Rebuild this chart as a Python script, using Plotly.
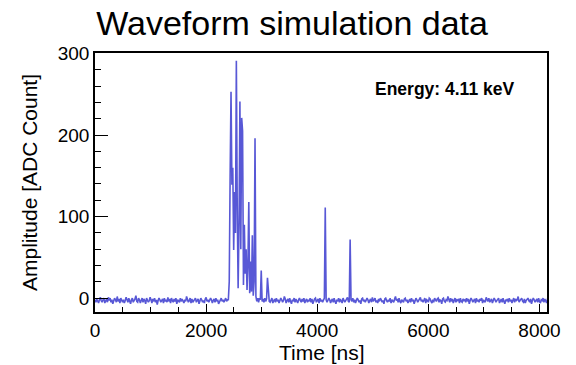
import plotly.graph_objects as go

# Sample period of the digitiser (ns)
SAMPLE_NS = 16

# Amplitude samples [ADC count], one per SAMPLE_NS
amplitude = [
    -2, -5, -1, -4, -6, -2, 1, -3, -5, -2, 0, -6, -3, -1, -5, 1,
    -3, 0, -5, -2, -7, -3, 0, -2, -5, 2, -4, -1, -6, 0, -3, -5,
    -2, -6, -3, 1, -2, -5, 0, -3, -7, -2, 0, -5, -3, -1, 3, -4,
    -5, 0, -2, -6, -3, 0, -5, -1, -3, -7, 0, -2, -5, -3, 1, -2,
    -6, -1, -4, 0, -5, -2, -8, -3, 0, -2, -5, -3, -1, -6, 0, -4,
    -2, -5, 1, -4, -1, -6, 0, -3, -5, -1, -4, 0, -7, -2, -3, -5,
    0, -4, -1, -5, -6, -2, -4, 2, -2, -5, -3, 0, -6, -1, -5, -3,
    -1, 0, -5, -3, -1, -7, -3, 0, -2, -5, -3, -6, -1, 1, -4, -2,
    -5, -3, 0, -2, -6, -3, -1, -5, 0, -4, -2, -7, -4, -1, 0, -4,
    -2, -5, -3, 0, -4, -2, -2, 20, 150, 253, 139, 160, 59, 130, 80, 291,
    110, 12, 90, 241, 60, 221, 205, 16, 90, 30, 60, 10, 40, 118, 6, 45,
    8, 77, 3, 20, 196, 2, -4, 0, -5, 0, -2, 34, -4, -1, -5, 0,
    -4, -1, 25, 0, -4, -5, -1, 0, -6, -3, -1, -5, 0, -4, -2, -6,
    -3, 0, -2, -5, -3, 2, -1, -6, -3, -1, -5, 0, -4, -7, -2, -3,
    0, -5, -1, -4, -6, -2, 0, -3, -5, -1, -4, 0, -6, -3, -1, -5,
    -2, -4, 0, -5, -1, -7, -3, -1, 0, -5, -3, -1, -6, 0, -4, -2,
    -5, -1, 0, 111, -2, -5, -3, 0, -2, -6, -3, -1, -5, 0, -4, -7,
    -2, -4, 0, -5, -1, -3, -6, 0, -2, -5, -3, -1, 1, -4, -5, 72,
    -2, -4, 0, -5, -2, -6, -3, 0, -2, -5, -3, -7, -1, 0, -4, -2,
    -5, -3, 0, -2, -6, -3, -1, -5, 1, -4, -2, 0, -5, -3, -6, -1,
    -4, 0, -2, -5, -3, -7, -1, 0, -3, -5, -2, -4, 0, -6, -2, -3,
    -5, -1, 2, -3, -1, -5, 0, -4, -6, -2, -3, -5, -1, 0, -4, -2,
    -6, -3, -1, -5, 0, -4, -2, -7, -3, 0, -2, -5, -3, -1, 1, -4,
    -2, -5, -3, 0, -6, -2, -3, -5, 0, -1, -4, -6, -2, -5, 0, -3,
    -4, -1, 0, -5, -2, -3, -7, -1, 0, -4, -5, -2, -3, 2, -2, -5,
    0, -4, -1, -6, -3, 0, -5, -2, -3, -1, -6, 0, -4, -5, -1, -3,
    -2, -5, 0, -4, -1, -7, -3, 0, -2, -5, -3, -1, -6, 0, -4, -2,
    -5, -1, -3, 0, -6, -2, -4, -5, 1, -2, -4, 0, -5, -3, -1, -6,
    -3, 0, -2, -5, -3, -1, 0, -6, -3, -1, -5, 0, -4, -7, -2, -3,
    -1, -5, 0, -4, -2, -6, -3, 0, -5, -1, -3, -2, 2, -5, -3, -1,
    0, -4, -5, -1, -6, -3, -2, 0, -3, -5, -1, -7, -3, 0, -2, -5,
    -3, -1, -5, 0, -4, -6, -2, -3, 0, -5, -1, -3, -6, -1, 0, -4,
]
time_ns = [i * SAMPLE_NS for i in range(len(amplitude))]

title_text = "Waveform simulation data"
x_title = "Time [ns]"
y_title = "Amplitude [ADC Count]"
energy_label = "<b>Energy: 4.11 keV</b>"

FONT = "Liberation Sans, Arial, Helvetica, sans-serif"

fig = go.Figure()
fig.add_trace(go.Scatter(
    x=time_ns, y=amplitude, mode="lines",
    line=dict(color="rgb(88,88,214)", width=1.6),
    hoverinfo="skip", showlegend=False,
))

fig.update_layout(
    width=576, height=365,
    margin=dict(l=95, r=29, t=53, b=53, autoexpand=False),
    paper_bgcolor="white", plot_bgcolor="white",
    font=dict(family=FONT, color="black"),
    title=dict(text=title_text, font=dict(size=34, family=FONT, color="black"),
               x=0.507, xanchor="center", xref="container",
               y=0.97, yanchor="top", yref="container", automargin=False),
    annotations=[
        dict(text=energy_label, xref="paper", yref="paper",
             x=0.614, y=0.861, xanchor="left", yanchor="middle",
             showarrow=False, font=dict(size=17.5, family=FONT, color="black")),
        dict(text=x_title, xref="paper", yref="paper",
             x=0.502, y=-0.158, xanchor="center", yanchor="middle",
             showarrow=False, font=dict(size=21, family=FONT, color="black")),
    ],
)

fig.update_xaxes(
    automargin=False,
    range=[0, 8135], showgrid=False, zeroline=False,
    showline=True, linecolor="black", linewidth=1.5, mirror=True,
    tickmode="linear", tick0=0, dtick=2000,
    ticks="inside", ticklen=8, tickwidth=1.3, tickcolor="black",
    minor=dict(tickmode="linear", tick0=0, dtick=500, ticks="inside",
               ticklen=5, tickwidth=1.1, tickcolor="black"),
    tickfont=dict(size=19, family=FONT, color="black"),
)
fig.update_yaxes(
    automargin=False,
    range=[-17, 300.6], showgrid=False, zeroline=False,
    showline=True, linecolor="black", linewidth=1.5, mirror=True,
    tickmode="linear", tick0=0, dtick=100,
    ticks="inside", ticklen=13, tickwidth=1.3, tickcolor="black",
    minor=dict(tickmode="linear", tick0=0, dtick=20, ticks="inside",
               ticklen=6, tickwidth=1.1, tickcolor="black"),
    tickfont=dict(size=19, family=FONT, color="black"),
    title=dict(text=y_title, font=dict(size=21, family=FONT, color="black"), standoff=14),
)

fig.write_html("out.html")
